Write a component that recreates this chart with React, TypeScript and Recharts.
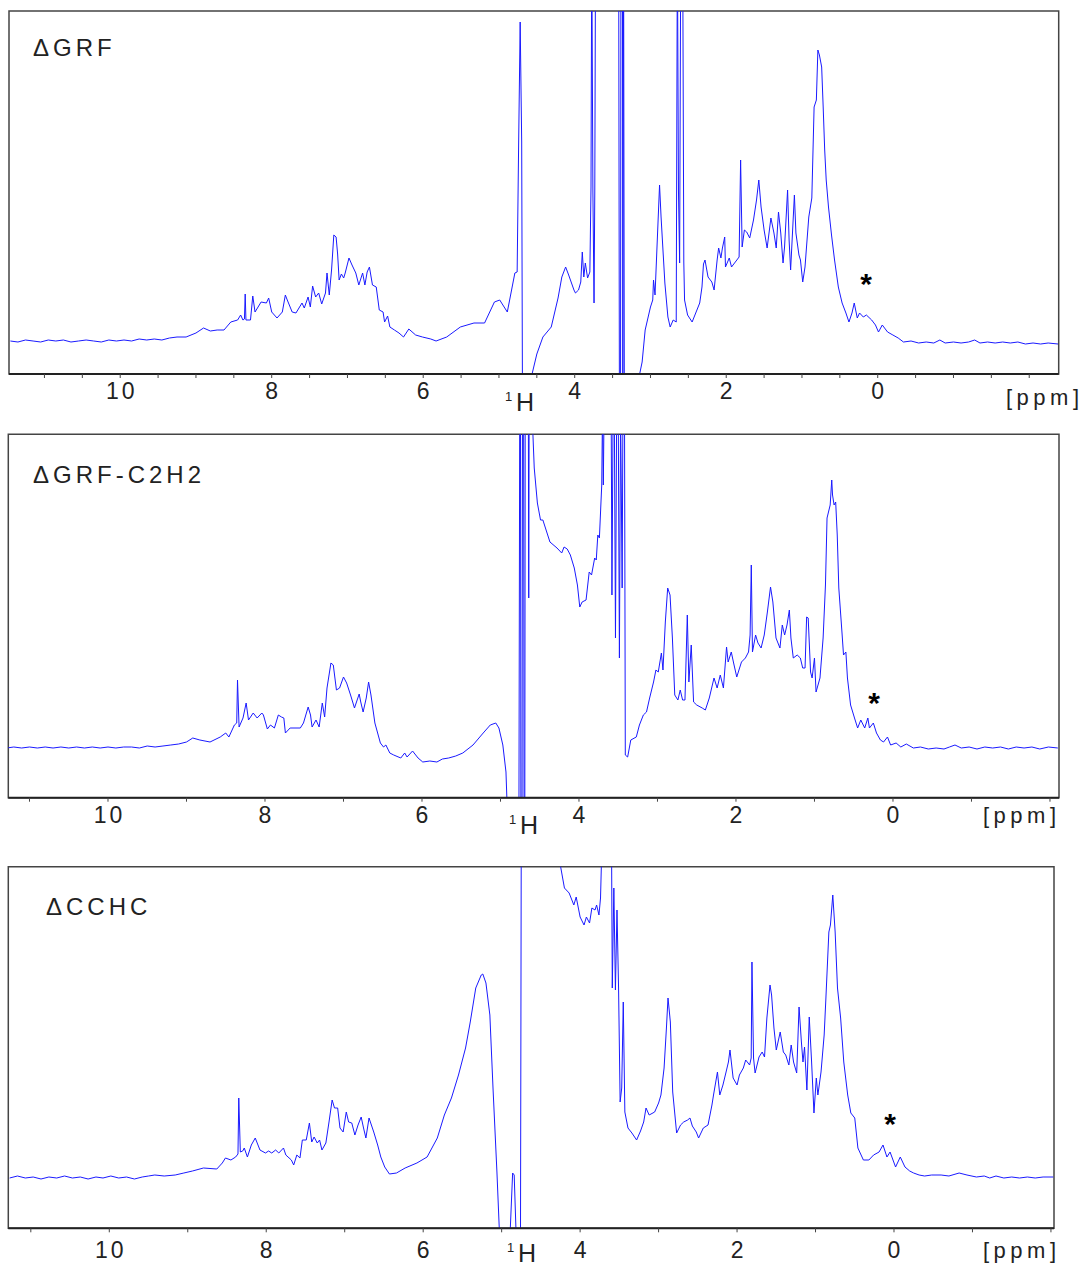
import React from 'react';
import { LineChart, Line, XAxis, YAxis, ReferenceArea } from 'recharts';

// [ppm, intensity (a.u.)]
const grf: [number, number][] = [
  [11.45, 1], [11.35, 0], [11.25, 2], [11.15, 1], [11.05, 0], [10.95, 2], [10.85, 1], [10.75, 2], [10.65, 0], [10.55, 1],
  [10.45, 2], [10.35, 1], [10.25, 0], [10.15, 2], [10.05, 1], [9.95, 2], [9.85, 1], [9.75, 3], [9.65, 2], [9.55, 3],
  [9.45, 2], [9.35, 4], [9.25, 5], [9.13, 5], [9.0, 9], [8.9, 14], [8.81, 11], [8.72, 12], [8.63, 12], [8.54, 20], [8.45, 22],
  [8.41, 27], [8.38, 22], [8.36, 23], [8.35, 48], [8.34, 22], [8.28, 22], [8.25, 46], [8.22, 30], [8.14, 40], [8.07, 39],
  [8.04, 44], [8.0, 30], [7.93, 24], [7.86, 30], [7.82, 47], [7.8, 43], [7.73, 30], [7.68, 29], [7.6, 39], [7.57, 34],
  [7.52, 45], [7.49, 35], [7.46, 56], [7.42, 45], [7.38, 49], [7.34, 38], [7.29, 49], [7.27, 69], [7.24, 47], [7.21, 72],
  [7.18, 107], [7.15, 105], [7.13, 88], [7.11, 62], [7.08, 68], [7.05, 64], [7.03, 69], [6.98, 84], [6.94, 77], [6.89, 69],
  [6.85, 57], [6.8, 69], [6.77, 57], [6.74, 70], [6.71, 75], [6.67, 57], [6.62, 55], [6.58, 32], [6.53, 30], [6.51, 20],
  [6.47, 26], [6.44, 15], [6.38, 12], [6.32, 9], [6.26, 5], [6.19, 13], [6.1, 7], [6.01, 5], [5.9, 3], [5.83, 1],
  [5.69, 5], [5.51, 15], [5.33, 19], [5.19, 19], [5.06, 40], [4.99, 42], [4.89, 30], [4.79, 69], [4.76, 70], [4.74, 200],
  [4.72, 320], [4.7, 200], [4.69, -50], [4.6, -50], [4.56, -31], [4.5, -12], [4.42, 5], [4.31, 15], [4.22, 44], [4.17, 65],
  [4.12, 75], [4.08, 67], [4.01, 52], [3.99, 49], [3.95, 52], [3.92, 60], [3.9, 90], [3.88, 65], [3.86, 79], [3.83, 64],
  [3.8, 70], [3.785, 155], [3.775, 400], [3.76, 150], [3.745, 39], [3.735, 150], [3.725, 400], [3.7, 400], [3.42, 400], [3.41, -60],
  [3.395, -60], [3.39, 400], [3.37, 400], [3.365, -60], [3.355, 400], [3.345, -60], [3.15, -60], [3.14, -31], [3.11, -20], [3.07, 12],
  [3.0, 35], [2.97, 42], [2.96, 62], [2.94, 47], [2.91, 102], [2.88, 157], [2.86, 125], [2.81, 59], [2.77, 25], [2.74, 15],
  [2.7, 22], [2.66, 20], [2.645, 400], [2.63, 150], [2.615, 79], [2.6, 400], [2.575, 400], [2.56, 80], [2.55, 42], [2.51, 27],
  [2.45, 20], [2.35, 39], [2.32, 55], [2.3, 78], [2.28, 82], [2.24, 65], [2.19, 60], [2.16, 52], [2.12, 82], [2.1, 94],
  [2.07, 84], [2.05, 94], [2.02, 105], [2.01, 75], [1.96, 84], [1.93, 75], [1.88, 80], [1.83, 85], [1.81, 182], [1.79, 95],
  [1.76, 112], [1.73, 110], [1.69, 104], [1.64, 122], [1.6, 142], [1.57, 162], [1.54, 135], [1.5, 112], [1.46, 94], [1.41, 124],
  [1.37, 109], [1.34, 94], [1.31, 130], [1.28, 109], [1.25, 79], [1.23, 95], [1.19, 152], [1.17, 102], [1.15, 72], [1.1, 147],
  [1.08, 109], [1.04, 87], [1.02, 82], [0.99, 60], [0.96, 75], [0.91, 125], [0.87, 144], [0.84, 235], [0.81, 242], [0.79, 292],
  [0.77, 287], [0.74, 275], [0.72, 235], [0.7, 192], [0.68, 162], [0.65, 135], [0.61, 107], [0.57, 82], [0.52, 55], [0.47, 39],
  [0.42, 29], [0.38, 20], [0.34, 29], [0.31, 39], [0.27, 24], [0.24, 29], [0.19, 25], [0.15, 27], [0.08, 22], [0.03, 17],
  [-0.01, 10], [-0.06, 17], [-0.13, 10], [-0.2, 7], [-0.27, 4], [-0.34, 0], [-0.44, 1], [-0.54, -1], [-0.64, 0], [-0.74, -1],
  [-0.82, 2], [-0.89, -1], [-1.0, 0], [-1.1, -1], [-1.2, 0], [-1.28, 2], [-1.35, -1], [-1.45, 0], [-1.55, -1], [-1.65, 0],
  [-1.75, -1], [-1.85, 0], [-1.95, -2], [-2.05, -1], [-2.15, -2], [-2.25, -1], [-2.38, -2],
];

const grfC2h2: [number, number][] = [
  [11.29, 0], [11.2, 1], [11.1, 0], [11.0, 1], [10.9, 0], [10.8, 1], [10.7, 0], [10.6, 1], [10.5, 0], [10.4, 1],
  [10.3, 0], [10.2, 1], [10.1, 0], [10.0, 1], [9.9, 0], [9.8, 1], [9.7, 1], [9.6, 0], [9.5, 2], [9.4, 1],
  [9.3, 2], [9.2, 3], [9.1, 4], [9.0, 6], [8.92, 10], [8.83, 8], [8.7, 6], [8.57, 11], [8.5, 15], [8.46, 11], [8.39, 23],
  [8.36, 25], [8.35, 68], [8.33, 21], [8.28, 30], [8.24, 45], [8.21, 28], [8.15, 35], [8.1, 30], [8.04, 35], [8.02, 33],
  [7.97, 19], [7.93, 23], [7.88, 20], [7.83, 33], [7.79, 31], [7.76, 30], [7.74, 15], [7.68, 20], [7.55, 20], [7.51, 25],
  [7.45, 41], [7.42, 33], [7.4, 21], [7.35, 28], [7.31, 21], [7.27, 45], [7.24, 31], [7.21, 60], [7.16, 85], [7.13, 83],
  [7.09, 58], [7.05, 60], [7.0, 71], [6.96, 65], [6.91, 53], [6.86, 40], [6.8, 54], [6.78, 46], [6.75, 36], [6.71, 50],
  [6.68, 66], [6.65, 53], [6.6, 25], [6.53, 5], [6.49, 1], [6.46, 3], [6.41, -5], [6.36, -7], [6.27, -10], [6.22, -5],
  [6.19, -9], [6.12, -3], [6.05, -10], [5.99, -14], [5.9, -13], [5.81, -14], [5.74, -11], [5.66, -10], [5.57, -8], [5.48, -5],
  [5.35, 3], [5.22, 15], [5.13, 23], [5.06, 25], [5.02, 20], [4.97, 3], [4.93, -24], [4.91, -70], [4.765, -70], [4.755, 340],
  [4.745, 340], [4.74, -70], [4.725, -70], [4.72, 340], [4.705, 340], [4.7, -70], [4.69, -70], [4.685, 340], [4.645, 340], [4.64, 150],
  [4.635, 340], [4.6, 340], [4.57, 280], [4.53, 245], [4.49, 228], [4.46, 228], [4.37, 206], [4.28, 200], [4.22, 195], [4.19, 201],
  [4.15, 199], [4.11, 193], [4.06, 180], [4.02, 163], [3.99, 141], [3.96, 146], [3.91, 148], [3.87, 176], [3.84, 173], [3.8, 190],
  [3.78, 188], [3.76, 213], [3.74, 210], [3.71, 263], [3.7, 340], [3.69, 263], [3.68, 340], [3.59, 340], [3.58, 153], [3.565, 340],
  [3.55, 340], [3.535, 110], [3.52, 340], [3.5, 340], [3.485, 90], [3.47, 340], [3.45, 160], [3.44, 340], [3.42, 340], [3.41, -7],
  [3.38, -9], [3.34, 8], [3.27, 11], [3.23, 23], [3.18, 33], [3.14, 36], [3.1, 50], [3.05, 66], [3.02, 78], [2.99, 76],
  [2.95, 95], [2.93, 78], [2.9, 126], [2.87, 160], [2.84, 153], [2.81, 110], [2.78, 53], [2.74, 48], [2.71, 58], [2.68, 48],
  [2.65, 48], [2.62, 133], [2.6, 66], [2.57, 103], [2.54, 46], [2.5, 43], [2.43, 40], [2.39, 38], [2.34, 50], [2.28, 70],
  [2.24, 60], [2.2, 73], [2.16, 60], [2.12, 101], [2.1, 86], [2.06, 96], [2.03, 85], [1.99, 71], [1.93, 86], [1.88, 90],
  [1.84, 96], [1.82, 113], [1.805, 183], [1.79, 96], [1.75, 113], [1.72, 105], [1.68, 100], [1.64, 113], [1.6, 136], [1.56, 161],
  [1.53, 146], [1.49, 110], [1.44, 100], [1.41, 123], [1.38, 113], [1.35, 123], [1.32, 138], [1.3, 110], [1.27, 90], [1.22, 93],
  [1.18, 90], [1.15, 80], [1.12, 80], [1.1, 131], [1.08, 130], [1.05, 76], [1.03, 70], [1.0, 90], [0.98, 56], [0.93, 70],
  [0.89, 110], [0.86, 163], [0.84, 230], [0.8, 243], [0.78, 268], [0.77, 253], [0.75, 243], [0.73, 246], [0.71, 213], [0.69, 160],
  [0.65, 116], [0.63, 93], [0.6, 96], [0.58, 70], [0.54, 43], [0.49, 30], [0.45, 20], [0.41, 28], [0.36, 20], [0.32, 30],
  [0.3, 20], [0.25, 25], [0.21, 15], [0.16, 8], [0.12, 6], [0.07, 11], [0.03, 3], [-0.04, 5], [-0.1, 1], [-0.17, 4],
  [-0.26, 0], [-0.35, 1], [-0.45, -1], [-0.55, 0], [-0.65, -1], [-0.72, 1], [-0.79, 3], [-0.87, 0], [-0.97, 1], [-1.07, -1],
  [-1.17, 1], [-1.27, 0], [-1.37, 1], [-1.47, -1], [-1.57, 1], [-1.67, 0], [-1.77, 1], [-1.87, -1], [-1.98, 1], [-2.1, 0],
];

const cchc: [number, number][] = [
  [11.27, 0], [11.17, 2], [11.07, 0], [10.97, 1], [10.87, -1], [10.77, 1], [10.67, 0], [10.57, 2], [10.47, 0], [10.37, 1],
  [10.27, -1], [10.17, 1], [10.08, 0], [9.98, 2], [9.88, 0], [9.78, 1], [9.68, -1], [9.58, 1], [9.5, 2], [9.42, 3],
  [9.3, 2], [9.16, 3], [9.05, 5], [8.94, 7], [8.8, 10], [8.63, 9], [8.56, 15], [8.52, 20], [8.45, 18], [8.39, 21], [8.36, 24], [8.35, 80],
  [8.33, 26], [8.3, 27], [8.28, 30], [8.24, 21], [8.19, 33], [8.14, 40], [8.08, 28], [8.01, 25], [7.97, 27], [7.93, 25],
  [7.88, 28], [7.84, 25], [7.78, 30], [7.75, 23], [7.68, 18], [7.65, 13], [7.61, 23], [7.57, 20], [7.54, 38], [7.49, 38],
  [7.45, 55], [7.42, 36], [7.39, 41], [7.35, 35], [7.32, 38], [7.29, 28], [7.24, 35], [7.2, 56], [7.16, 78], [7.13, 70],
  [7.09, 70], [7.06, 50], [7.02, 46], [6.98, 66], [6.95, 56], [6.91, 55], [6.87, 43], [6.83, 53], [6.79, 61], [6.76, 50],
  [6.73, 40], [6.69, 60], [6.66, 53], [6.63, 46], [6.58, 33], [6.54, 21], [6.49, 11], [6.43, 4], [6.34, 5], [6.23, 10],
  [6.08, 15], [5.95, 21], [5.82, 40], [5.73, 63], [5.64, 80], [5.55, 103], [5.46, 130], [5.4, 156], [5.33, 190], [5.26, 203],
  [5.24, 204], [5.2, 195], [5.15, 163], [5.11, 90], [5.06, 6], [5.02, -70], [4.9, -70], [4.86, 5], [4.84, 3], [4.81, -70],
  [4.76, -70], [4.75, 340], [4.27, 340], [4.25, 312], [4.2, 290], [4.14, 285], [4.08, 273], [4.05, 281], [4.0, 261], [3.95, 253],
  [3.92, 261], [3.88, 255], [3.85, 270], [3.81, 268], [3.79, 273], [3.76, 263], [3.74, 280], [3.72, 340], [3.6, 340], [3.59, 190],
  [3.57, 290], [3.55, 188], [3.53, 268], [3.51, 190], [3.49, 76], [3.47, 90], [3.45, 176], [3.43, 66], [3.39, 50], [3.34, 45],
  [3.28, 38], [3.23, 47], [3.19, 56], [3.16, 70], [3.12, 63], [3.05, 66], [3.0, 75], [2.97, 83], [2.93, 110], [2.9, 150],
  [2.88, 180], [2.85, 156], [2.82, 86], [2.77, 45], [2.72, 53], [2.68, 56], [2.63, 58], [2.6, 60], [2.57, 52], [2.52, 46],
  [2.49, 40], [2.43, 50], [2.37, 53], [2.32, 73], [2.3, 83], [2.25, 106], [2.22, 83], [2.18, 93], [2.14, 106], [2.11, 116],
  [2.09, 128], [2.05, 100], [2.0, 93], [1.97, 103], [1.92, 110], [1.89, 118], [1.84, 113], [1.82, 120], [1.81, 216], [1.79, 120],
  [1.77, 105], [1.72, 121], [1.68, 126], [1.65, 121], [1.62, 160], [1.58, 193], [1.56, 183], [1.53, 150], [1.5, 128], [1.45, 146],
  [1.41, 126], [1.38, 123], [1.34, 113], [1.31, 133], [1.28, 116], [1.24, 105], [1.21, 171], [1.18, 136], [1.16, 116], [1.14, 131],
  [1.11, 88], [1.08, 161], [1.05, 116], [1.02, 65], [0.99, 100], [0.97, 83], [0.93, 106], [0.89, 143], [0.87, 176], [0.83, 246],
  [0.81, 253], [0.78, 283], [0.75, 246], [0.72, 190], [0.68, 160], [0.64, 116], [0.59, 83], [0.55, 65], [0.5, 60], [0.46, 30],
  [0.39, 18], [0.32, 18], [0.26, 23], [0.19, 26], [0.14, 33], [0.09, 21], [0.05, 26], [-0.02, 11], [-0.08, 21], [-0.14, 11],
  [-0.2, 7], [-0.25, 5], [-0.32, 3], [-0.39, 2], [-0.48, 3], [-0.6, 3], [-0.7, 2], [-0.83, 5], [-0.93, 3], [-1.05, 1],
  [-1.15, 2], [-1.22, 0], [-1.3, 2], [-1.4, 0], [-1.5, 1], [-1.6, 0], [-1.7, 1], [-1.8, 0], [-1.9, 1], [-2.03, 1],
];

const halfTicks = [11, 10.5, 10, 9.5, 9, 8.5, 8, 7.5, 7, 6.5, 6, 5.5, 5, 4.5, 4, 3.5, 3, 2.5, 2, 1.5, 1, 0.5, 0, -0.5, -1, -1.5, -2];
const unitTicks = [11, 10, 9, 8, 7, 6, 5, 4, 3, 2, 1, 0, -1, -2];
const labelled = [10, 8, 6, 4, 2, 0];

const FONT = '"Liberation Sans", Arial, sans-serif';
const BLUE = '#1a1aff';

function PpmTick(props: any) {
  const { x, y, payload } = props;
  const v = payload.value;
  if (!labelled.includes(v)) return null;
  return (
    <text x={x + 1.5} y={y} dy="0.71em" textAnchor="middle" fontFamily={FONT} fontSize={23} fill="#222" style={{ letterSpacing: 3 }}>
      {String(v)}
    </text>
  );
}

function Spectrum({ data, top, height, margin, xDomain, yDomain, ticks, tickMargin }: any) {
  const rows = data.map(([ppm, v]: [number, number]) => ({ ppm, v }));
  return (
    <div style={{ position: 'absolute', left: 0, top }}>
      <LineChart width={1088} height={height} data={rows} margin={margin}>
        <XAxis
          type="number"
          dataKey="ppm"
          domain={xDomain}
          reversed
          allowDataOverflow
          ticks={ticks}
          interval={0}
          tick={<PpmTick />}
          tickLine={{ stroke: '#444' }}
          tickSize={4}
          tickMargin={tickMargin}
          axisLine={{ stroke: '#222', strokeWidth: 2 }}
          height={30}
        />
        <YAxis hide type="number" domain={yDomain} allowDataOverflow />
        <ReferenceArea
          x1={xDomain[0]}
          x2={xDomain[1]}
          y1={yDomain[0]}
          y2={yDomain[1]}
          fill="none"
          fillOpacity={0}
          stroke="#444"
          strokeWidth={1.5}
          ifOverflow="visible"
        />
        <Line type="linear" dataKey="v" stroke={BLUE} strokeWidth={1} dot={false} isAnimationActive={false} />
      </LineChart>
    </div>
  );
}

function Nucleus({ x, y }: { x: number; y: number }) {
  return (
    <g fontFamily={FONT} fill="#222">
      <text x={x - 11} y={y - 10} fontSize={13}>1</text>
      <text x={x} y={y} fontSize={25}>H</text>
    </g>
  );
}

export default function App() {
  return (
    <div style={{ position: 'absolute', left: 0, top: 0, width: 1088, height: 1270, background: '#fff' }}>
      <Spectrum
        data={grf}
        top={0}
        height={420}
        margin={{ top: 11, left: 9, right: 29.3, bottom: 16 }}
        xDomain={[-2.389, 11.468]}
        yDomain={[-32, 331]}
        ticks={halfTicks}
        tickMargin={5}
      />
      <Spectrum
        data={grfC2h2}
        top={425}
        height={420}
        margin={{ top: 9.3, left: 8.3, right: 29, bottom: 17.3 }}
        xDomain={[-2.115, 11.27]}
        yDomain={[-49.7, 313.7]}
        ticks={unitTicks}
        tickMargin={5}
      />
      <Spectrum
        data={cchc}
        top={855}
        height={415}
        margin={{ top: 11.7, left: 8.3, right: 34, bottom: 11.7 }}
        xDomain={[-2.039, 11.287]}
        yDomain={[-50.3, 311.3]}
        ticks={unitTicks}
        tickMargin={9}
      />
      <svg width={1088} height={1270} style={{ position: 'absolute', left: 0, top: 0, pointerEvents: 'none' }}>
        <g fontFamily={FONT} fill="#222" fontSize={24} style={{ letterSpacing: 4 }}>
          <text x={33} y={56}>ΔGRF</text>
          <text x={33} y={483}>ΔGRF-C2H2</text>
          <text x={46} y={915}>ΔCCHC</text>
        </g>
        <g fontFamily={FONT} fill="#222" fontSize={22} style={{ letterSpacing: 4.5 }}>
          <text x={1006} y={405}>[ppm]</text>
          <text x={983} y={823}>[ppm]</text>
          <text x={983} y={1258}>[ppm]</text>
        </g>
        <Nucleus x={516} y={411} />
        <Nucleus x={520} y={834} />
        <Nucleus x={518} y={1262} />
        <g fontFamily={FONT} fill="#000" fontWeight="bold" fontSize={30} textAnchor="middle">
          <text x={866} y={294}>*</text>
          <text x={874} y={713}>*</text>
          <text x={890} y={1134}>*</text>
        </g>
      </svg>
    </div>
  );
}
